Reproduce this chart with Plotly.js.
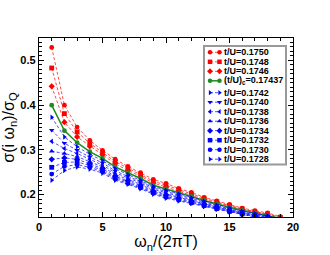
<!DOCTYPE html>
<html><head><meta charset="utf-8">
<script src="https://cdn.plot.ly/plotly-3.0.1.min.js"></script>
<style>html,body{margin:0;padding:0;background:#fff}</style>
</head><body><div id="chart" style="width:330px;height:255px"></div>
<script>
const freq = [1,2,3,4,5,6,7,8,9,10,11,12,13,14,15,16,17,18,19];
const seriesLabels = ['t/U=0.1750','t/U=0.1748','t/U=0.1746','(t/U)<sub>c</sub>=0.17437','t/U=0.1742','t/U=0.1740','t/U=0.1738','t/U=0.1736','t/U=0.1734','t/U=0.1732','t/U=0.1730','t/U=0.1728'];
const t1750 = [0.529,0.400,0.351,0.321,0.299,0.279,0.263,0.249,0.234,0.225,0.214,0.205,0.194,0.186,0.178,0.170,0.164,0.159,0.151];
const t1748 = [0.483,0.381,0.340,0.315,0.294,0.274,0.259,0.245,0.230,0.221,0.211,0.202,0.192,0.184,0.176,0.168,0.162,0.157,0.149];
const t1746 = [0.442,0.362,0.329,0.308,0.289,0.269,0.254,0.241,0.226,0.217,0.208,0.199,0.189,0.182,0.174,0.167,0.161,0.156,0.148];
const tCrit = [0.400,0.343,0.316,0.296,0.281,0.262,0.249,0.236,0.221,0.213,0.204,0.196,0.187,0.179,0.172,0.165,0.159,0.154,0.147];
const t1742 = [0.373,0.329,0.307,0.290,0.276,0.258,0.245,0.232,0.218,0.210,0.202,0.193,0.185,0.177,0.170,0.163,0.158,0.153,0.146];
const t1740 = [0.344,0.315,0.299,0.284,0.271,0.253,0.241,0.229,0.215,0.207,0.199,0.191,0.183,0.175,0.168,0.162,0.157,0.152,0.145];
const t1738 = [0.319,0.303,0.292,0.279,0.266,0.249,0.237,0.226,0.212,0.204,0.196,0.189,0.181,0.174,0.167,0.160,0.155,0.151,0.144];
const t1736 = [0.297,0.292,0.285,0.274,0.262,0.245,0.234,0.223,0.209,0.201,0.194,0.187,0.179,0.172,0.165,0.159,0.154,0.150,0.143];
const t1734 = [0.279,0.282,0.279,0.269,0.258,0.241,0.231,0.220,0.207,0.199,0.192,0.185,0.178,0.171,0.164,0.158,0.153,0.149,0.142];
const t1732 = [0.261,0.272,0.273,0.265,0.254,0.238,0.228,0.217,0.205,0.196,0.190,0.183,0.176,0.169,0.163,0.157,0.152,0.148,0.141];
const t1730 = [0.246,0.263,0.267,0.261,0.251,0.235,0.225,0.215,0.203,0.194,0.188,0.181,0.175,0.168,0.162,0.156,0.151,0.147,0.140];
const t1728 = [0.232,0.254,0.262,0.257,0.248,0.232,0.223,0.213,0.201,0.192,0.186,0.180,0.173,0.167,0.161,0.155,0.150,0.146,0.139];
const xTickVals = [0,5,10,15,20];
const yTickVals = [0.2,0.3,0.4,0.5];

const allSeries = [t1750,t1748,t1746,tCrit,t1742,t1740,t1738,t1736,t1734,t1732,t1730,t1728];
const symbols = ['circle','square','diamond','circle','triangle-right','triangle-down','triangle-left','triangle-up','diamond','square','circle','triangle-right'];
const RED='#ff0000', GREEN='#1e8c1e', BLUE='#0000ff';
function styleFor(i){
  if(i<3) return {color:RED, dash:'3px,2px', width:0.7};
  if(i===3) return {color:GREEN, dash:'solid', width:1.5};
  return {color:BLUE, dash:'3px,2px', width:0.7};
}
const traces=[];
allSeries.forEach((ys,i)=>{
  const st=styleFor(i);
  traces.push({x:freq,y:ys,type:'scatter',mode:'lines+markers',showlegend:false,hoverinfo:'skip',
    line:{color:st.color,dash:st.dash,width:st.width},
    marker:{symbol:symbols[i],color:st.color,size:4.8,line:{width:0}}});
});
// legend drawn in pixel space overlay axes
const annotations=[];
allSeries.forEach((ys,i)=>{
  const st=styleFor(i);
  const yy = 52.3 + i*9.5 + (i>=4?2.4:0);
  traces.push({x:[210,219.5],y:[yy,yy],xaxis:'x2',yaxis:'y2',type:'scatter',mode:'lines+markers',showlegend:false,hoverinfo:'skip',
    line:{color:st.color,dash:st.dash,width:st.width},
    marker:{symbol:symbols[i],color:st.color,size:4.5,line:{width:0}}});
  annotations.push({xref:'x2',yref:'y2',x:222.5,y:yy,xanchor:'left',yanchor:'middle',showarrow:false,borderpad:0,
    text:seriesLabels[i],font:{family:'Liberation Sans, Arial, sans-serif',size:9,weight:'bold',color:'#000'}});
});
const axFont={family:'Liberation Sans, Arial, sans-serif',size:11,weight:'bold',color:'#000'};
const layout={
  width:330,height:255,margin:{l:39,r:37,t:38,b:38},
  paper_bgcolor:'#fff',plot_bgcolor:'#fff',
  showlegend:false,hovermode:false,
  xaxis:{range:[0,20],tickvals:xTickVals,ticks:'inside',ticklen:5,tickwidth:1,tickcolor:'#000',
    showline:true,linecolor:'#000',linewidth:1.2,mirror:'allticks',showgrid:false,zeroline:false,
    tickfont:axFont,
    minor:{dtick:1,ticks:'inside',ticklen:3,tickcolor:'#000',showgrid:false},
    title:{text:'ω<sub>n</sub>/(2πT)',font:{family:'Liberation Sans, Arial, sans-serif',size:16,color:'#000'},standoff:2}},
  yaxis:{range:[0.15,0.55],tickvals:yTickVals,tickformat:'.1f',ticks:'inside',ticklen:5,tickwidth:1,tickcolor:'#000',
    showline:true,linecolor:'#000',linewidth:1.2,mirror:'allticks',showgrid:false,zeroline:false,
    tickfont:axFont,
    minor:{dtick:0.01,ticks:'inside',ticklen:3,tickcolor:'#000',showgrid:false},
    title:{text:'σ(i ω<sub>n</sub>)/σ<sub>Q</sub>',font:{family:'Liberation Sans, Arial, sans-serif',size:16,color:'#000'},standoff:4}},
  xaxis2:{overlaying:'x',anchor:'y2',range:[39,293],visible:false,fixedrange:true},
  yaxis2:{overlaying:'y',anchor:'x2',range:[217,38],visible:false,fixedrange:true},
  shapes:[{type:'rect',xref:'x2',yref:'y2',x0:204,x1:286,y0:46,y1:164.5,line:{color:'#999',width:2},fillcolor:'#fff',layer:'below'}],
  annotations:annotations
};
Plotly.newPlot('chart',traces,layout,{staticPlot:true,displayModeBar:false});
</script></body></html>
